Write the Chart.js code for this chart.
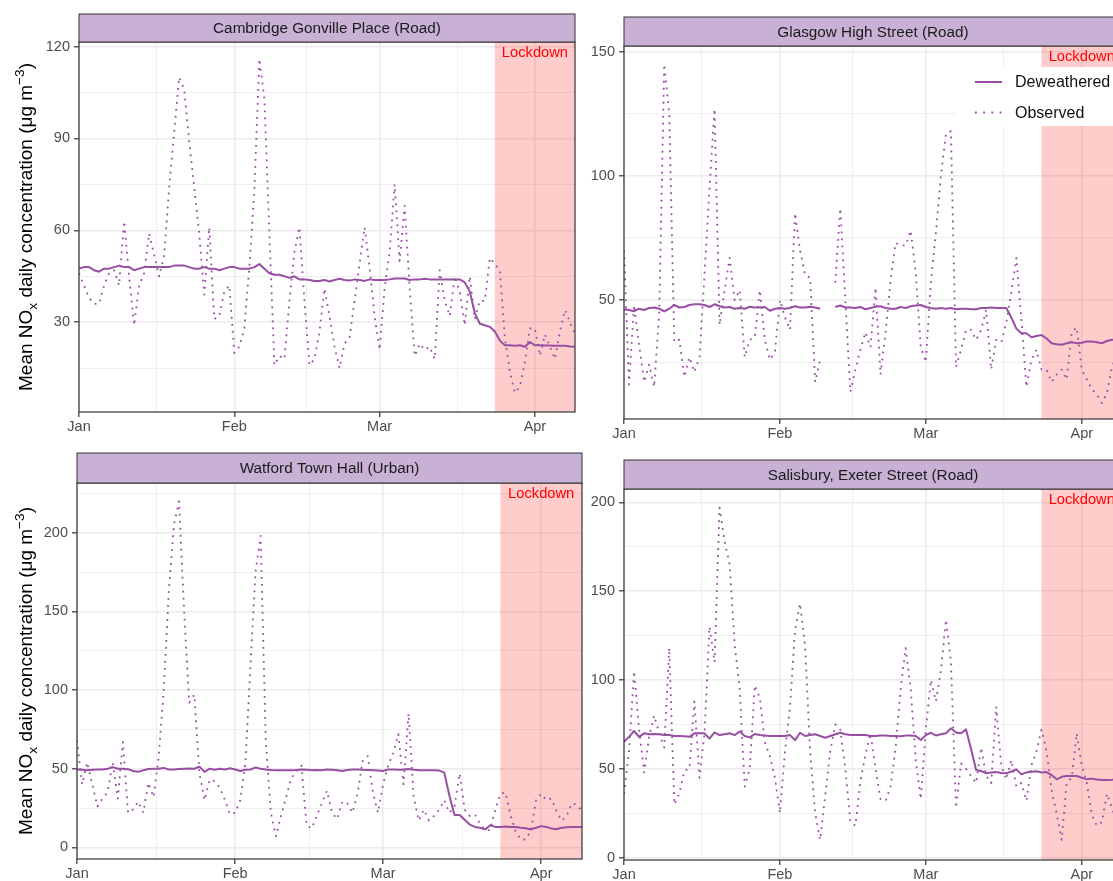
<!DOCTYPE html>
<html>
<head>
<meta charset="utf-8">
<script src="https://cdn.jsdelivr.net/npm/chart.js@4.4.1/dist/chart.umd.min.js"></script>
<style>
  html, body { margin: 0; padding: 0; background: #fff; overflow: hidden; width: 1113px; height: 881px; position: relative; }
  canvas { position: absolute; }
</style>
</head>
<body>
<script>
// day index from 1 Jan 2020 (0) to 9 Apr 2020 (99)
const days = Array.from({ length: 100 }, (_, i) => i);
const monthTicks = [0, 31, 60, 91];
const monthLabels = ['Jan', 'Feb', 'Mar', 'Apr'];
const monthMinor = [15.5, 45.5, 75.5];
const lockdownStart = 83;   // 24 Mar
const lockdownLabelAt = 91; // 1 Apr
const seriesNames = ['Deweathered', 'Observed'];

const cambridgeDew = [
  47.5, 48, 48, 47, 46.5, 47.5, 47.5, 48, 48.5, 48,
  48, 47, 47.5, 48, 48, 48, 48, 48, 48, 48.5,
  48.5, 48.5, 48, 47.5, 47.5, 48, 47.5, 47.5, 47, 47.5,
  48, 48, 47.5, 47.5, 47.5, 48, 49, 47.5, 46, 45.5,
  45.5, 45, 44.5, 45, 44, 44, 43.8, 43.5, 43.5, 43.8,
  43.3, 43.8, 44.2, 43.8, 43.6, 44, 43.8, 43.5, 44, 43.8,
  43.8, 43.8, 44, 44.3, 44.3, 44.3, 43.8, 44, 44, 44.2,
  44, 44, 44, 44, 44, 44, 44, 43, 40, 33,
  29.5, 29, 28.5, 27, 24, 22.5, 22.5, 22.3, 22.5, 22,
  23.5, 22.5, 22.5, 22.4, 22.4, 22.3, 22.3, 22.3, 22.1, 22
];
const cambridgeObs = [
  46, 42, 38, 36, 36, 42, 46, 47, 42, 63,
  45, 29, 42, 46, 59, 52, 45, 52, 74, 92,
  110, 106, 89, 74, 59, 39, 61, 31, 32, 40,
  42, 20, 22, 28, 48, 73, 116, 103, 59, 16,
  19, 18, 37, 53, 61, 37, 16, 18, 27, 41,
  32, 22, 15, 23, 25, 37, 49, 61, 48, 32,
  21, 41, 53, 75, 50, 68, 41, 19, 23, 21,
  22, 18, 47, 37, 32, 45, 40, 29, 45, 31,
  37, 37, 51, 49, 47, 25, 14, 7, 9, 17,
  28, 28, 19, 26, 22, 18, 27, 34, 30, 26
];

const glasgowDew = [
  46.3, 46, 45.5, 46.5, 46, 46.8, 47, 46.5, 45.4, 46.5,
  48, 47, 47.2, 48, 48.3, 48.3, 48, 47.2, 48.3, 47.5,
  47, 47.2, 46.5, 46.8, 46.5, 47.3, 47, 47, 47.2, 45.7,
  46.5, 46.8, 46.5, 46.8, 47.5, 47, 47, 47.3, 47, 46.5,
  null, null, 47.2, 47.8, 47, 47, 46.8, 47.2, 46.3, 46.8,
  47.3, 47.5, 46.8, 46.5, 46.5, 47.2, 46.8, 47.5, 47.8, 48,
  47.2, 46.8, 46.5, 46.8, 46.5, 46.8, 46.3, 46.5, 46.5, 46.3,
  46.3, 46.8, 46.8, 47, 46.8, 46.8, 46.8, 43, 38.5, 36.6,
  36.6, 35, 35.5, 35.9, 34.5, 32.6, 32.2, 32, 32.6, 33,
  32.6, 32.8, 33.3, 33.3, 33, 32.6, 33.5, 34, 34, 34.5
];
const glasgowObs = [
  70, 16, 48, 32, 17, 24, 15, 45, 145, 125,
  33, 34, 19, 27, 21, 27, 60, 95, 127, 40,
  54, 67, 50, 54, 27, 34, 35, 54, 34, 26,
  29, 50, 43, 38, 85, 70, 60, 59, 17, 26,
  null, null, 57, 87, 50, 13, 22, 30, 37, 31,
  55, 20, 37, 58, 73, 72, 72, 78, 61, 31,
  25, 57, 77, 100, 117, 118, 23, 30, 38, 38,
  34, 38, 46, 22, 34, 33, 41, 53, 67, 42,
  15, 26, 30, 22, 22, 17, 20, 22, 18, 37,
  39, 22, 18, 14, 12, 8.5, 12.5, 23, 28, 31
];

const watfordDew = [
  49.5, 49.3, 49, 49.3, 49.5, 49.5, 50, 51, 50, 50,
  49.7, 48.5, 48, 49, 49.8, 50, 50, 50.5, 49.5, 49.5,
  49.8, 50, 50.2, 50, 51.3, 48, 50, 49.3, 50, 49.5,
  50.3, 49.5, 48.5, 49.3, 49.5, 50.8, 50, 49.5, 49.2, 49,
  49, 49, 49, 49.2, 49.5, 49.3, 49, 49.2, 49, 49.5,
  49.3, 49, 48.5, 49.2, 49.5, 49.5, 49.3, 49.2, 49, 48.8,
  48.5, 49.5, 49.5, 49.3, 49.5, 49.8, 49.3, 49, 49, 49,
  49, 48.8, 47.5, 33, 20.5, 20.5, 17.5, 14.5, 13, 12.5,
  11.4, 14, 13, 13, 13.2, 13, 13, 12.5, 12.2, 11.4,
  12.5, 13.5, 13, 12, 11.5, 12.5, 12.8, 13, 13, 13
];
const watfordObs = [
  68, 40, 54, 40, 26, 31, 35, 54, 31, 67,
  22, 24, 29, 22, 41, 32, 57, 100, 163, 205,
  220, 150, 92, 97, 47, 30, 43, 42, 38, 30,
  21, 22, 30, 53, 115, 175, 198, 68, 22, 7,
  20, 32, 44, 48, 52, 14, 12, 20, 28, 36,
  22, 18, 29, 28, 22, 34, 55, 58, 35, 22,
  40, 52, 60, 72, 40, 85, 32, 17, 24, 17,
  20, 24, 30, 22, 26, 47, 24, 20, 21, 15,
  11, 11, 24, 34, 35, 20, 10, 5, 5, 11,
  30, 34, 30, 31, 23, 17, 20, 28, 27, 23
];

const salisburyDew = [
  65.3, 68, 71.3, 68, 70, 69.5, 69.6, 69.5, 69, 69,
  68.5, 68.5, 68.3, 68, 70, 70, 70, 67, 70.5, 69,
  69.5, 70, 69, 71, 68.5, 67.7, 69.6, 69, 68.8, 68.5,
  68.5, 68.5, 68.5, 69, 66.2, 70.3, 68.5, 69, 69.5, 68.5,
  67.5, 68.5, 69.5, 70.3, 69.5, 69, 69, 69, 69, 68.5,
  68.5, 68.8, 68.8, 68.5, 68.5, 68.3, 68.7, 68.8, 68.5, 66.2,
  69, 70.3, 68.8, 69.5, 70, 72.8, 70.5, 70, 72.2, 61,
  49.4, 48.8, 47.5, 48, 48.2, 47.7, 47.5, 48.5, 49.7, 46.9,
  48, 48.4, 48.6, 48, 48.2, 46.5, 44.1, 45.5, 46, 46,
  46, 45, 44.2, 44.5, 44, 43.7, 43.7, 43.8, 44, 44
];
const salisburyObs = [
  36, 60, 105, 72, 48, 68, 80, 70, 62, 118,
  30, 36, 49, 50, 88, 45, 70, 130, 110, 197,
  178, 165, 120, 95, 40, 50, 97, 90, 65, 57,
  45, 25, 60, 85, 128, 143, 119, 60, 25, 10,
  35, 60, 75, 72, 50, 20, 18, 43, 58, 70,
  50, 33, 32, 40, 62, 95, 118, 95, 55, 33,
  72, 100, 88, 105, 134, 110, 28, 53, 50, 46,
  42, 62, 46, 42, 85, 52, 44, 55, 40, 42,
  32, 52, 60, 72, 60, 38, 25, 10, 42, 45,
  70, 52, 42, 24, 18, 20, 36, 28, 20, 25
];

const cambridgeMajor = [30, 60, 90, 120];
const cambridgeMinor = [15, 45, 75, 105];
const glasgowMajor = [50, 100, 150];
const glasgowMinor = [25, 75, 125];
const watfordMajor = [0, 50, 100, 150, 200];
const watfordMinor = [25, 75, 125, 175, 225];
const salisburyMajor = [0, 50, 100, 150, 200];
const salisburyMinor = [25, 75, 125, 175];

const PURPLE = '#984EA3';
const FONT = "'Liberation Sans', Arial, sans-serif";
Chart.defaults.font.family = FONT;

function drawYTitle(ctx, cx, cy) {
  const f = 19;
  const parts = [
    { t: 'Mean NO', s: 1, dy: 0 },
    { t: 'x', s: 0.72, dy: 0.28 * f },
    { t: ' daily concentration (\u03bcg m', s: 1, dy: 0 },
    { t: '\u22123', s: 0.72, dy: -0.42 * f },
    { t: ')', s: 1, dy: 0 }
  ];
  ctx.save();
  let total = 0;
  parts.forEach(p => { ctx.font = (f * p.s) + 'px ' + FONT; p.w = ctx.measureText(p.t).width; total += p.w; });
  ctx.translate(cx, cy);
  ctx.rotate(-Math.PI / 2);
  ctx.fillStyle = '#000';
  ctx.textBaseline = 'alphabetic';
  ctx.textAlign = 'left';
  let x = -total / 2;
  parts.forEach(p => {
    ctx.font = (f * p.s) + 'px ' + FONT;
    ctx.fillText(p.t, x, p.dy);
    x += p.w;
  });
  ctx.restore();
}

const facetPlugin = {
  id: 'facet',
  beforeDatasetsDraw(chart) {
    const { ctx, chartArea: a, scales: { x } } = chart;
    const x0 = x.getPixelForValue(lockdownStart);
    ctx.save();
    ctx.fillStyle = 'rgba(255,0,0,0.2)';
    ctx.fillRect(x0, a.top, a.right - x0, a.bottom - a.top);
    ctx.restore();
  },
  afterDatasetsDraw(chart, args, o) {
    const { ctx, chartArea: a, scales: { x } } = chart;
    ctx.save();
    ctx.fillStyle = '#FF0000';
    ctx.font = '14.7px ' + FONT;
    ctx.textAlign = 'center';
    ctx.textBaseline = 'alphabetic';
    ctx.fillText('Lockdown', x.getPixelForValue(lockdownLabelAt), a.top + 14.5);
    ctx.restore();

    if (o.legend) {
      const lg = o.legend;
      ctx.save();
      ctx.fillStyle = '#fff';
      ctx.fillRect(lg.x, lg.y, lg.w, lg.h);
      chart.data.datasets.forEach((ds, i) => {
        const cy = lg.y + 15 + i * 30.5;
        ctx.strokeStyle = ds.borderColor;
        ctx.lineWidth = i ? 1.8 : 2;
        ctx.lineCap = 'butt';
        ctx.setLineDash(i ? [1.8, 6.4] : []);
        ctx.beginPath();
        ctx.moveTo(lg.x + 18, cy);
        ctx.lineTo(lg.x + 45, cy);
        ctx.stroke();
        ctx.setLineDash([]);
        ctx.fillStyle = '#111';
        ctx.font = '16px ' + FONT;
        ctx.textAlign = 'left';
        ctx.textBaseline = 'middle';
        ctx.fillText(ds.label, lg.x + 58, cy + 1);
      });
      ctx.restore();
    }
  },
  afterDraw(chart, args, o) {
    const { ctx, chartArea: a } = chart;
    ctx.save();
    // panel border
    ctx.strokeStyle = '#333';
    ctx.lineWidth = 1.2;
    ctx.strokeRect(a.left, a.top, a.right - a.left, a.bottom - a.top);
    // strip
    ctx.fillStyle = '#C9B1D5';
    ctx.fillRect(a.left, o.stripTop, a.right - a.left, a.top - o.stripTop);
    ctx.lineWidth = 1;
    ctx.strokeRect(a.left, o.stripTop, a.right - a.left, a.top - o.stripTop);
    ctx.fillStyle = '#1A1A1A';
    ctx.font = '15.3px ' + FONT;
    ctx.textAlign = 'center';
    ctx.textBaseline = 'middle';
    ctx.fillText(o.title, (a.left + a.right) / 2, (o.stripTop + a.top) / 2 + 1);
    ctx.restore();
    if (o.yTitle) drawYTitle(ctx, o.yTitle, (a.top + a.bottom) / 2);
  }
};

const panels = [
  { title: 'Cambridge Gonville Place (Road)', dew: cambridgeDew, obs: cambridgeObs,
    major: cambridgeMajor, minor: cambridgeMinor, yMin: 0.7, yMax: 121.5,
    box: [0, 0, 600, 440], plot: [79, 42, 575, 412], stripTop: 14, yTitle: 32 },
  { title: 'Glasgow High Street (Road)', dew: glasgowDew, obs: glasgowObs,
    major: glasgowMajor, minor: glasgowMinor, yMin: 2.1, yMax: 152.3,
    box: [580, 0, 545, 440], plot: [624, 46, 1122, 419], stripTop: 17,
    legend: { x: 957, y: 67, w: 170, h: 59 } },
  { title: 'Watford Town Hall (Urban)', dew: watfordDew, obs: watfordObs,
    major: watfordMajor, minor: watfordMinor, yMin: -7.4, yMax: 231.6,
    box: [0, 440, 600, 441], plot: [77, 483, 582, 859], stripTop: 453, yTitle: 32 },
  { title: 'Salisbury, Exeter Street (Road)', dew: salisburyDew, obs: salisburyObs,
    major: salisburyMajor, minor: salisburyMinor, yMin: -1.3, yMax: 207.5,
    box: [580, 440, 545, 441], plot: [624, 489, 1122, 860], stripTop: 460 }
];

function toXY(vals) {
  return days.map((d, i) => ({ x: d, y: vals[i] }));
}

function makePanel(p) {
  const [bx, by, bw, bh] = p.box;
  const [pl, pt, pr, pb] = p.plot;
  const cv = document.createElement('canvas');
  cv.width = bw; cv.height = bh;
  cv.style.left = bx + 'px'; cv.style.top = by + 'px';
  document.body.appendChild(cv);
  const axisW = pl - bx, axisH = by + bh - pb;
  const xTicks = [...monthTicks, ...monthMinor].sort((a, b) => a - b);
  const yTicks = [...p.major, ...p.minor].sort((a, b) => a - b);
  const isMajorX = c => c.tick && monthTicks.includes(c.tick.value);
  const isMajorY = c => c.tick && p.major.includes(c.tick.value);

  new Chart(cv, {
    type: 'line',
    data: {
      datasets: [
        { label: seriesNames[0], data: toXY(p.dew), borderColor: PURPLE, borderWidth: 2,
          borderJoinStyle: 'round', pointRadius: 0, tension: 0, spanGaps: false },
        { label: seriesNames[1], data: toXY(p.obs), borderColor: PURPLE, borderWidth: 1.8,
          borderDash: [1.8, 5.2], borderCapStyle: 'butt', borderJoinStyle: 'round',
          pointRadius: 0, tension: 0, spanGaps: false }
      ]
    },
    options: {
      responsive: false,
      animation: false,
      events: [],
      layout: { padding: { top: pt - by, right: bx + bw - pr, left: 0, bottom: 0 } },
      plugins: {
        legend: { display: false },
        tooltip: { enabled: false },
        facet: { title: p.title, stripTop: p.stripTop - by, yTitle: p.yTitle || 0,
                 legend: p.legend ? { x: p.legend.x - bx, y: p.legend.y - by, w: p.legend.w, h: p.legend.h } : null }
      },
      scales: {
        x: {
          type: 'linear', min: 0, max: 99,
          afterFit: s => { s.height = axisH; },
          afterBuildTicks: s => { s.ticks = xTicks.map(v => ({ value: v })); },
          ticks: {
            autoSkip: false, maxRotation: 0, padding: 1, color: '#4D4D4D', font: { size: 14.5 },
            callback: v => { const i = monthTicks.indexOf(v); return i < 0 ? '' : monthLabels[i]; }
          },
          grid: {
            color: '#EBEBEB',
            lineWidth: c => isMajorX(c) ? 1.6 : 0.8,
            tickColor: c => isMajorX(c) ? '#333' : 'rgba(0,0,0,0)',
            tickLength: 5, tickWidth: 1.2
          },
          border: { display: false }
        },
        y: {
          min: p.yMin, max: p.yMax,
          afterFit: s => { s.width = axisW; },
          afterBuildTicks: s => { s.ticks = yTicks.map(v => ({ value: v })); },
          ticks: {
            autoSkip: false, padding: 4, color: '#4D4D4D', font: { size: 14.5 },
            callback: v => p.major.includes(v) ? String(v) : ''
          },
          grid: {
            color: '#EBEBEB',
            lineWidth: c => isMajorY(c) ? 1.6 : 0.8,
            tickColor: c => isMajorY(c) ? '#333' : 'rgba(0,0,0,0)',
            tickLength: 5, tickWidth: 1.2
          },
          border: { display: false }
        }
      }
    },
    plugins: [facetPlugin]
  });
}

panels.forEach(makePanel);
</script>
</body>
</html>
